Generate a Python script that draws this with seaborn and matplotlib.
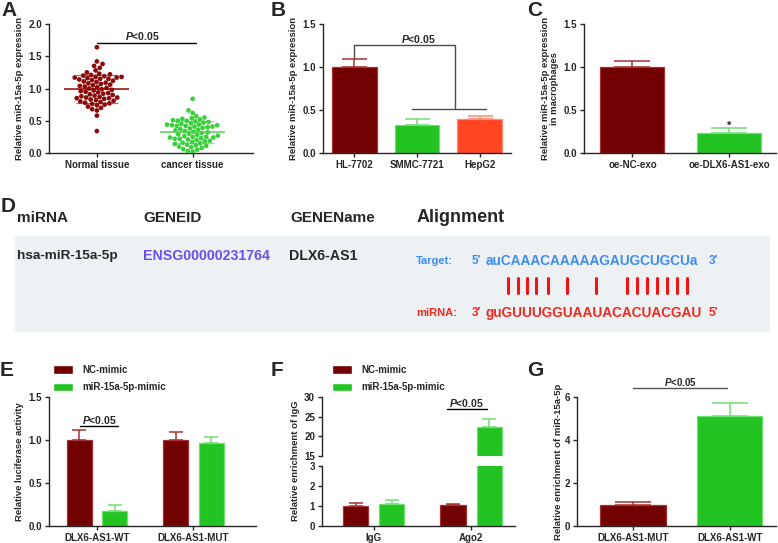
import numpy as np
import pandas as pd
import matplotlib
matplotlib.use("Agg")
import matplotlib.pyplot as plt
from matplotlib.patches import Rectangle
from matplotlib.lines import Line2D
import seaborn as sns

sns.set_style("ticks")
plt.rcParams['font.family'] = ['Liberation Sans', 'DejaVu Sans']
plt.rcParams['font.weight'] = 'bold'
plt.rcParams['axes.labelweight'] = 'bold'
plt.rcParams['mathtext.fontset'] = 'custom'
plt.rcParams['mathtext.it'] = 'Liberation Sans:italic:bold'
plt.rcParams['mathtext.rm'] = 'Liberation Sans:bold'

# ---- datos ----
# A
tissue_groups = ["Normal tissue", "cancer tissue"]
normal_vals = [1.64, 1.42, 1.38, 1.35, 1.32, 1.28, 1.25, 1.23, 1.22, 1.21, 1.2, 1.19,
               1.18, 1.18, 1.17, 1.17, 1.16, 1.15, 1.15, 1.14, 1.13, 1.12, 1.11, 1.1,
               1.09, 1.08, 1.07, 1.06, 1.05, 1.04, 1.03, 1.02, 1.01, 1.0, 0.99, 0.98,
               0.97, 0.96, 0.95, 0.94, 0.93, 0.92, 0.91, 0.9, 0.89, 0.88, 0.87, 0.86,
               0.86, 0.85, 0.85, 0.84, 0.83, 0.82, 0.81, 0.8, 0.79, 0.78, 0.77, 0.76,
               0.75, 0.74, 0.72, 0.7, 0.68, 0.66, 0.58, 0.34]
cancer_vals = [0.84, 0.66, 0.62, 0.57, 0.55, 0.54, 0.53, 0.52, 0.51, 0.5, 0.5, 0.49,
               0.48, 0.47, 0.46, 0.45, 0.44, 0.44, 0.43, 0.43, 0.42, 0.42, 0.41, 0.41,
               0.4, 0.39, 0.38, 0.37, 0.36, 0.35, 0.34, 0.33, 0.32, 0.31, 0.3, 0.29,
               0.28, 0.27, 0.26, 0.25, 0.25, 0.24, 0.24, 0.23, 0.22, 0.22, 0.21, 0.2,
               0.19, 0.18, 0.17, 0.16, 0.15, 0.14, 0.13, 0.12, 0.11, 0.1, 0.09, 0.08,
               0.06, 0.05, 0.03, 0.02]
# B
cell_lines = ["HL-7702", "SMMC-7721", "HepG2"]
cell_expr = [1.0, 0.33, 0.39]
cell_err = [0.09, 0.07, 0.04]
# C
exo_groups = ["oe-NC-exo", "oe-DLX6-AS1-exo"]
exo_expr = [1.0, 0.23]
exo_err = [0.07, 0.06]
# E
mimics = ["NC-mimic", "miR-15a-5p-mimic"]
luc_groups = ["DLX6-AS1-WT", "DLX6-AS1-MUT"]
luc_nc = [1.0, 1.0]
luc_nc_err = [0.12, 0.09]
luc_mimic = [0.17, 0.97]
luc_mimic_err = [0.07, 0.06]
# F
rip_groups = ["IgG", "Ago2"]
rip_nc = [1.02, 1.05]
rip_nc_err = [0.13, 0.07]
rip_mimic = [1.1, 22.4]
rip_mimic_err = [0.2, 2.1]
# G
pull_groups = ["DLX6-AS1-MUT", "DLX6-AS1-WT"]
pull_vals = [1.0, 5.1]
pull_err = [0.12, 0.6]

# D (tabla)
table_header = ["miRNA", "GENEID", "GENEName"]
table_row = ["hsa-miR-15a-5p", "ENSG00000231764", "DLX6-AS1"]
target_seq = "auCAAACAAAAAGAUGCUGCUa"
mirna_seq = "guGUUUGGUAAUACACUACGAU"

# colores
maroon, maroon_edge = "#730000", "#a83030"
green, green_edge = "#22c322", "#70e070"
orange, orange_edge = "#ff4422", "#ff8a70"
edge_of = {maroon: maroon_edge, green: green_edge, orange: orange_edge}

W, H = 778, 543
fig = plt.figure(figsize=(W / 100, H / 100), dpi=100)


def px_axes(x0, y0, x1, y1):
    return fig.add_axes([x0 / W, 1 - y1 / H, (x1 - x0) / W, (y1 - y0) / H])


def estilo(ax):
    sns.despine(ax=ax)
    for s in ['left', 'bottom']:
        ax.spines[s].set_linewidth(1.0)
    ax.tick_params(width=1.0, length=3, labelsize=7, pad=2)
    ax.set_xlabel("")


def barras_err(ax, errs, width_px):
    # barras de error solo hacia arriba, emparejadas con los patches
    for p, e in zip(ax.patches, errs):
        fc = matplotlib.colors.to_hex(p.get_facecolor())
        ec = edge_of.get(fc, "#333333")
        p.set_edgecolor(ec)
        p.set_linewidth(0.9)
        cx = p.get_x() + p.get_width() / 2
        ax.errorbar(cx, p.get_height(), yerr=[[0], [e]], fmt='none', ecolor=ec,
                    elinewidth=1.1, capthick=1.1, capsize=width_px * 0.2, zorder=3)


def p_text(ax, x, y, size=7.5):
    ax.text(x, y, r"$P$<0.05", ha='center', va='center', fontsize=size,
            fontweight='bold', clip_on=False)


def letra(x, y, s):
    fig.text(x / W, 1 - y / H, s, fontsize=15, fontweight='bold', ha='left', va='center')


# ---------- A ----------
axA = px_axes(49, 24, 253, 153)
dfA = pd.DataFrame({"grupo": [tissue_groups[0]] * len(normal_vals) + [tissue_groups[1]] * len(cancer_vals),
                    "valor": normal_vals + cancer_vals})
sns.swarmplot(data=dfA, x="grupo", y="valor", hue="grupo", order=tissue_groups,
              palette=["#8b0a0a", "#3ccf3c"], size=3.4, ax=axA, legend=False)
for i, vals, c_mean, c_sd in [(0, normal_vals, "#9a0000", "#c86060"), (1, cancer_vals, "#50d050", "#90e090")]:
    m, sd = np.mean(vals), np.std(vals)
    axA.hlines(m, i - 0.34, i + 0.34, color=c_mean, lw=1.1, zorder=4)
    axA.hlines([m - sd, m + sd], i - 0.22, i + 0.22, color=c_sd, lw=0.9, zorder=0)
axA.set_xlim(-0.5, 1.63)
axA.set_ylim(0, 2.0)
axA.set_yticks([0, 0.5, 1.0, 1.5, 2.0])
axA.set_yticklabels(["0.0", "0.5", "1.0", "1.5", "2.0"])
axA.set_ylabel("Relative miR-15a-5p expression", fontsize=6.8, labelpad=3)
estilo(axA)
axA.plot([0, 1.04], [1.71, 1.71], color='black', lw=1.0, clip_on=False)
p_text(axA, 0.48, 1.81)

# ---------- B ----------
axB = px_axes(323, 24, 511, 153)
sns.barplot(x=cell_lines, y=cell_expr, hue=cell_lines, palette=[maroon, green, orange],
            width=0.71, errorbar=None, saturation=1, ax=axB, legend=False)
barras_err(axB, cell_err, 45)
axB.set_xlim(-0.5, 2.5)
axB.set_ylim(0, 1.5)
axB.set_yticks([0, 0.5, 1.0, 1.5])
axB.set_yticklabels(["0.0", "0.5", "1.0", "1.5"])
axB.set_ylabel("Relative miR-15a-5p expression", fontsize=6.8, labelpad=3)
estilo(axB)
gris = "#4a4a4a"
axB.plot([0, 0, 1.6, 1.6], [1.1, 1.26, 1.26, 0.52], color=gris, lw=1.0, clip_on=False)
axB.plot([0.92, 2.1], [0.51, 0.51], color=gris, lw=1.0)
p_text(axB, 1.02, 1.32)

# ---------- C ----------
axC = px_axes(584, 24, 776, 153)
sns.barplot(x=exo_groups, y=exo_expr, hue=exo_groups, palette=[maroon, green],
            width=0.66, errorbar=None, saturation=1, ax=axC, legend=False)
barras_err(axC, exo_err, 64)
axC.set_xlim(-0.5, 1.48)
axC.set_ylim(0, 1.5)
axC.set_yticks([0, 0.5, 1.0, 1.5])
axC.set_yticklabels(["0.0", "0.5", "1.0", "1.5"])
axC.set_ylabel("Relative miR-15a-5p expression\nin macrophages", fontsize=6.8,
               labelpad=3, linespacing=1.0)
estilo(axC)
axC.text(1, 0.32, "*", ha='center', va='center', fontsize=8, fontweight='bold')

# ---------- D ----------
fig.patches.append(Rectangle((15 / W, 1 - 332 / H), (770 - 15) / W, (332 - 236) / H,
                             transform=fig.transFigure, facecolor="#eef1f4",
                             edgecolor='none', zorder=0))
for xp, txt in zip([17, 143, 290], table_header):
    fig.text(xp / W, 1 - 218 / H, txt, fontsize=11, fontweight='bold', va='center')
fig.text(417 / W, 1 - 218 / H, "Alignment", fontsize=13, fontweight='bold', va='center')
fig.text(17 / W, 1 - 256 / H, table_row[0], fontsize=9.7, fontweight='bold', va='center')
fig.text(143 / W, 1 - 256 / H, table_row[1], fontsize=10.2, fontweight='bold', va='center',
         color="#6c4ff0")
fig.text(289 / W, 1 - 256 / H, table_row[2], fontsize=10.2, fontweight='bold', va='center')
azul, rojo = "#3d8cf2", "#f0281e"
for yp, lab, p1, seq, p2, col in [(261, "Target:", "5\u2032", target_seq, "3\u2032", azul),
                                  (313, "miRNA:", "3\u2032", mirna_seq, "5\u2032", rojo)]:
    fig.text(416 / W, 1 - yp / H, lab, fontsize=8, fontweight='bold', va='center', color=col)
    fig.text(472 / W, 1 - yp / H, p1, fontsize=8.5, fontweight='bold', va='center', color=col)
    fig.text(486 / W, 1 - yp / H, seq, fontsize=9.8, fontweight='bold', va='center', color=col)
    fig.text(709 / W, 1 - yp / H, p2, fontsize=8.5, fontweight='bold', va='center', color=col)
pair_x = [508, 518, 527, 536, 548, 567, 596, 627, 637, 647, 657, 667, 677, 687]
for xp in pair_x:
    fig.add_artist(Line2D([xp / W, xp / W], [1 - 278 / H, 1 - 293 / H], color="#f01414",
                          lw=2.2, transform=fig.transFigure))

# ---------- E ----------
axE = px_axes(49, 397, 256, 526)
dfE = pd.DataFrame({"grupo": luc_groups * 2,
                    "mimic": [mimics[0]] * 2 + [mimics[1]] * 2,
                    "valor": luc_nc + luc_mimic})
sns.barplot(data=dfE, x="grupo", y="valor", hue="mimic", order=luc_groups, hue_order=mimics,
            palette=[maroon, green], width=0.74, gap=0.3, errorbar=None, saturation=1, ax=axE)
barras_err(axE, luc_nc_err + luc_mimic_err, 25)
axE.set_xlim(-0.5, 1.65)
axE.set_ylim(0, 1.5)
axE.set_yticks([0, 0.5, 1.0, 1.5])
axE.set_yticklabels(["0.0", "0.5", "1.0", "1.5"])
axE.set_ylabel("Relative luciferase activity", fontsize=6.8, labelpad=3)
estilo(axE)
h, l = axE.get_legend_handles_labels()
axE.legend(h, l, loc='upper left', bbox_to_anchor=(53 / W, 1 - 365 / H),
           bbox_transform=fig.transFigure, frameon=False, fontsize=7, handlelength=2.1,
           handleheight=0.95, labelspacing=0.75, handletextpad=0.9, borderpad=0,
           borderaxespad=0)
axE.plot([-0.18, 0.22], [1.165, 1.165], color='black', lw=1.0)
p_text(axE, 0.02, 1.235)

# ---------- F (eje partido) ----------
axFt = px_axes(322, 397, 515, 456)
axFb = px_axes(322, 466, 515, 526)
dfF = pd.DataFrame({"grupo": rip_groups * 2,
                    "mimic": [mimics[0]] * 2 + [mimics[1]] * 2,
                    "valor": rip_nc + rip_mimic})
for ax in [axFt, axFb]:
    sns.barplot(data=dfF, x="grupo", y="valor", hue="mimic", order=rip_groups, hue_order=mimics,
                palette=[maroon, green], width=0.74, gap=0.3, errorbar=None, saturation=1, ax=ax)
    barras_err(ax, rip_nc_err + rip_mimic_err, 25)
    ax.set_xlim(-0.53, 1.45)
    estilo(ax)
axFt.set_ylim(15, 30)
axFt.set_yticks([15, 20, 25, 30])
axFt.spines['bottom'].set_visible(False)
axFt.set_xticks([])
axFt.set_ylabel("")
axFb.set_ylim(0, 3)
axFb.set_yticks([0, 1, 2, 3])
axFb.set_ylabel("")
axFb.get_legend().remove()
fig.text(296 / W, 1 - 461 / H, "Relative enrichment of IgG", rotation=90, fontsize=6.8,
         fontweight='bold', ha='center', va='center')
h, l = axFt.get_legend_handles_labels()
axFt.legend(h, l, loc='upper left', bbox_to_anchor=(332 / W, 1 - 365 / H),
            bbox_transform=fig.transFigure, frameon=False, fontsize=7, handlelength=2.1,
            handleheight=0.95, labelspacing=0.75, handletextpad=0.9, borderpad=0,
            borderaxespad=0)
axFt.plot([0.75, 1.16], [26.9, 26.9], color='black', lw=1.0)
p_text(axFt, 0.955, 28.6)

# ---------- G ----------
axG = px_axes(577, 397, 776, 526)
sns.barplot(x=pull_groups, y=pull_vals, hue=pull_groups, palette=[maroon, green],
            width=0.68, errorbar=None, saturation=1, ax=axG, legend=False)
barras_err(axG, pull_err, 66)
axG.set_xlim(-0.58, 1.48)
axG.set_ylim(0, 6)
axG.set_yticks([0, 2, 4, 6])
axG.set_ylabel("Relative enrichment of miR-15a-5p", fontsize=6.8, labelpad=1)
estilo(axG)
axG.plot([0, 0.97], [6.42, 6.42], color="#555555", lw=1.0, clip_on=False)
p_text(axG, 0.49, 6.68, size=7)

# letras de panel
for x, y, s in [(1, 11, "A"), (271, 11, "B"), (527, 11, "C"), (1, 207, "D"),
                (0, 370, "E"), (271, 370, "F"), (527, 370, "G")]:
    letra(x, y, s)

fig.savefig("out.png", dpi=100)
